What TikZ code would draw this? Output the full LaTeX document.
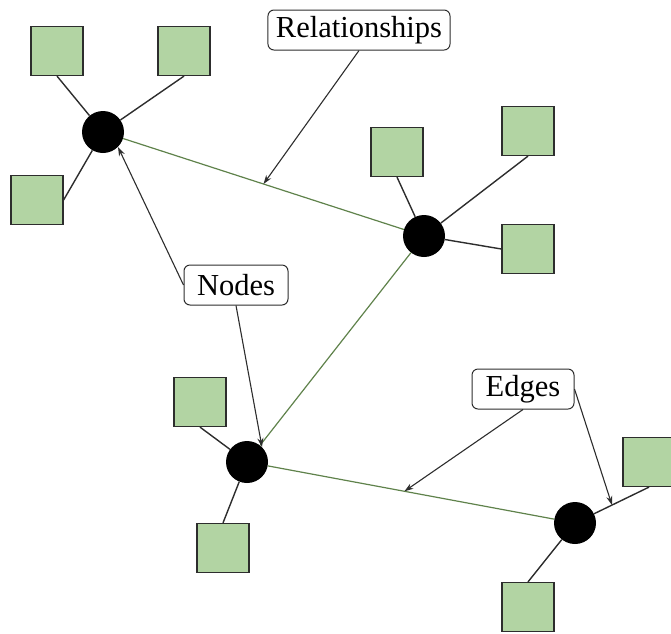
\documentclass[tikz,border=0pt]{standalone}
\usepackage{fontspec}
\setmainfont{Liberation Serif}
\usetikzlibrary{arrows.meta,calc}
\definecolor{leafgreen}{RGB}{178,212,163}
\definecolor{edgegreen}{RGB}{95,130,75}
\definecolor{darkline}{RGB}{45,45,45}

\begin{document}
\begin{tikzpicture}[x=1pt, y=-1pt,
  hub/.style={circle, fill=black, minimum size=42pt, inner sep=0pt},
  leaf/.style={rectangle, draw=darkline, line width=1.2pt, fill=leafgreen,
    minimum width=52pt, minimum height=49pt, inner sep=0pt},
  callout/.style={rectangle, rounded corners=6pt, draw=darkline, line width=1pt,
    fill=white, minimum height=40pt, inner xsep=8pt,
    font=\fontsize{30.5}{36}\selectfont},
  spoke/.style={darkline, line width=1.4pt},
  link/.style={edgegreen, line width=1.2pt},
  pointer/.style={darkline, line width=1.1pt, -{Stealth[length=9pt,width=6pt]}}]
  \useasboundingbox (0,0) rectangle (671,633);
  % Noeuds centraux
  \node[hub] (A) at (103,132) {};
  \node[hub] (B) at (424,236) {};
  \node[hub] (C) at (247,462) {};
  \node[hub] (D) at (575,523) {};
  % Feuilles
  \foreach \n/\x/\y in {a1/57/51, a2/184/51, a3/37/200, b1/397/152, b2/528/131,
      b3/528/249, c1/200/402, c2/223/548, d1/649/462, d2/528/607}
    \node[leaf] (\n) at (\x,\y) {};
  % Rayons
  \foreach \n/\a/\h in {a1/south/A, a2/south/A, a3/east/A, b1/south/B, b2/south/B,
      b3/west/B, c1/south/C, c2/north/C, d1/south/D, d2/north/D}
    \draw[spoke] (\n.\a) -- (\h);
  % Relations
  \draw[link] (A) -- (B);
  \draw[link] (B) -- (C);
  \draw[link] (C) -- (D);
  \coordinate (ab) at ($(A)!0.5!(B)$);
  \coordinate (cd) at ($(C)!0.48!(D)$);
  \coordinate (dd) at ($(D)!0.5!(d1.south)$);
  % Etiquettes
  \node[callout] (rel) at (359,30) {Relationships};
  \node[callout, minimum width=104pt] (nodes) at (236,285) {Nodes};
  \node[callout, minimum width=102pt] (edges) at (523,389) {Edges};
  \draw[pointer] (rel.south) -- (ab);
  \draw[pointer] (nodes.west) -- (A.south east);
  \draw[pointer] (nodes.south) -- (C.north east);
  \draw[pointer] (edges.south) -- (cd);
  \draw[pointer] (edges.east) -- (dd);
\end{tikzpicture}
\end{document}
